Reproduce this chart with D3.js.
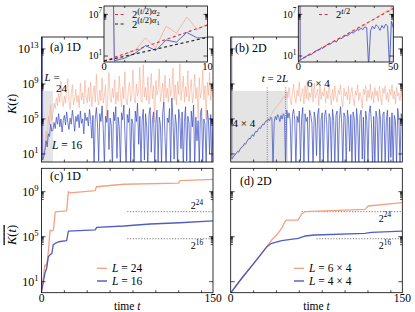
<!DOCTYPE html>
<html>
<head>
<meta charset="utf-8">
<script src="https://cdn.jsdelivr.net/npm/d3@7"></script>
<style>
  body { margin: 0; background: #fff; }
  svg { display: block; font-family: "Liberation Serif", "DejaVu Serif", serif; }
</style>
</head>
<body>
<svg width="415" height="312"></svg>
<script>
// ---- data (log10 of K, one value per integer time step t = 0..150) ----
const times = d3.range(0, 151);

const logK1D_L24 = [100,
  0.3, 1.2, 1.8, 3.6, 2.2, 5.3, 4.3, 6.6, 4.8, 5.6,
  6.8, 6.2, 7.4, 6.5, 7.9, 6.9, 9.3, 7.1, 6.4, 7.6,
  6.8, 8.2, 9.6, 7.0, 6.1, 7.8, 8.9, 6.6, 7.3, 8.4,
  6.9, 7.7, 6.3, 9.1, 7.2, 8.0, 6.7, 9.4, 7.5, 6.8,
  8.6, 7.0, 9.2, 6.4, 7.9, 8.8, 6.9, 10.1, 7.3, 6.6,
  8.3, 7.1, 9.7, 6.8, 7.6, 8.9, 4.8, 7.8, 10.3, 7.2,
  6.9, 8.5, 7.4, 9.5, 6.7, 8.1, 7.0, 9.9, 7.7, 6.4,
  8.7, 7.3, 10.4, 7.1, 6.6, 8.4, 9.2, 7.0, 7.8, 10.6,
  7.4, 6.8, 9.0, 7.6, 8.2, 10.9, 7.2, 6.9, 11.2, 7.5,
  8.6, 7.1, 9.8, 6.7, 8.0, 10.2, 7.3, 8.8, 4.6, 9.4,
  7.7, 8.3, 10.7, 7.0, 7.9, 9.1, 6.8, 10.0, 7.4, 8.5,
  6.9, 9.6, 7.6, 8.1, 10.8, 7.2, 8.9, 6.6, 9.3, 7.8,
  11.3, 7.1, 8.4, 9.9, 6.9, 8.7, 7.5, 10.5, 7.0, 8.2,
  9.5, 6.8, 7.9, 10.1, 7.3, 8.6, 5.0, 9.7, 7.4, 8.0,
  10.6, 7.2, 8.8, 4.9, 9.2, 7.7, 10.3, 7.1, 8.3, 7.6];

const logK1D_L16 = [100,
  0.3, 0.7, 1.4, 2.5, 1.8, 3.3, 3.0, 4.4, 3.6, 3.7,
  4.6, 3.9, 5.2, 4.4, 5.6, 4.1, 5.0, 3.5, 4.8, 5.4,
  4.3, 5.8, 4.6, 3.8, 5.1, 4.4, 6.0, 4.9, 3.6, 5.3,
  4.7, 5.5, 4.0, 5.9, 4.5, 5.0, 3.3, 5.7, 4.8, 5.2,
  4.2, 6.1, 4.9, 2.8, 5.4, -0.5, 5.0, 6.3, 4.4, 0.2,
  5.6, 4.7, 6.5, 3.9, -0.3, 5.3, 4.6, 6.0, 1.5, 5.1,
  4.3, -0.6, 5.8, 4.8, 6.4, 0.5, 5.2, 4.1, -0.4, 5.7,
  4.9, 6.6, 3.2, -0.5, 5.5, 4.6, 6.2, 0.0, 5.0, 4.4,
  -0.7, 5.9, 4.7, 6.8, 2.1, 5.3, -0.4, 4.8, 6.1, 0.3,
  5.6, 4.2, -0.6, 5.4, 6.3, 1.2, 4.9, 5.8, -0.5, 4.5,
  6.0, 0.1, 5.2, 4.4, -0.3, 5.7, 6.9, 3.0, -0.6, 5.1,
  4.6, 6.2, -0.4, 7.4, 4.8, 0.4, 5.5, 4.3, -0.5, 6.1,
  5.0, 1.6, 5.8, -0.7, 4.7, 6.4, 0.2, 5.3, 4.5, -0.4,
  5.9, 4.1, 6.6, -0.6, 5.2, 2.5, 4.8, -0.3, 5.7, 6.2,
  0.0, 5.0, 4.4, -0.5, 6.0, 4.9, 1.0, 5.5, -0.4, 4.6];

const logK2D_6x4 = [100,
  0.4, 0.6, 0.8, 1.0, 1.1, 1.3, 1.3, 1.5, 1.7, 1.9,
  1.9, 2.1, 2.2, 2.4, 2.5, 2.7, 2.8, 3.0, 3.1, 3.2,
  3.4, 3.5, 3.6, 3.8, 3.9, 4.1, 4.2, 4.4, 4.5, 4.6,
  4.8, 4.9, 5.1, 5.3, 5.4, 5.6, 5.9, 6.0, 6.2, 6.4,
  6.5, 6.7, 6.9, 7.0, 7.3, 7.4, 7.6, 7.3, 8.1, 7.4,
  8.6, 7.2, 6.6, 8.0, 9.0, 7.5, 6.8, 8.3, 7.6, 9.2,
  7.0, 7.9, 8.5, 6.7, 8.8, 7.3, 9.3, 7.1, 8.0, 7.5,
  8.7, 6.9, 9.1, 7.4, 7.9, 8.4, 6.5, 8.9, 7.2, 8.1,
  7.6, 8.6, 6.8, 8.2, 7.3, 9.0, 7.7, 6.6, 8.4, 7.1,
  8.8, 7.5, 6.9, 8.3, 7.8, 8.9, 7.0, 6.4, 8.5, 7.6,
  8.1, 7.2, 8.7, 6.7, 7.9, 8.6, 7.3, 6.5, 8.2, 7.7,
  8.9, 7.1, 8.0, 7.5, 6.2, 8.4, 7.8, 8.8, 7.0, 8.3,
  7.4, 9.0, 7.2, 8.1, 6.8, 8.6, 7.6, 8.2, 7.0, 8.7,
  7.5, 6.6, 8.5, 7.9, 8.8, 7.2, 8.0, 6.9, 8.4, 7.7,
  8.9, 7.3, 8.2, 6.7, 8.6, 7.6, 8.0, 7.1, 8.3, 7.4];

const logK2D_4x4 = [100,
  0.4, 0.6, 0.8, 0.9, 1.1, 1.3, 1.2, 1.5, 1.7, 1.8,
  1.9, 2.2, 2.1, 2.4, 2.6, 2.8, 2.7, 3.0, 3.2, 3.0,
  3.4, 3.6, 3.5, 3.8, 4.0, 3.9, 4.2, 4.4, 4.3, 4.6,
  4.8, 4.7, 5.0, 4.8, 5.2, 5.1, -0.5, 4.6, 5.3, 4.9,
  5.5, 5.2, 4.7, 5.4, 5.0, 5.6, 5.3, -0.6, 6.0, 5.1,
  5.7, 4.8, -0.4, 5.5, 6.1, 4.9, -0.6, 5.3, 4.6, 5.9,
  0.2, 5.1, 6.3, -0.5, 5.6, 4.7, 5.2, -0.3, 6.0, 5.4,
  4.5, -0.6, 5.8, 5.0, 0.8, 5.5, 6.2, -0.4, 4.9, 5.7,
  -0.5, 5.3, 6.0, 4.4, -0.7, 5.6, 5.1, 0.1, 6.1, 4.8,
  -0.4, 5.4, 5.9, -0.6, 5.0, 6.4, 4.6, -0.3, 5.7, 5.2,
  -0.5, 6.0, 4.9, 1.3, 5.5, -0.6, 5.8, 5.1, -0.4, 6.2,
  4.7, -0.5, 5.4, 6.0, 0.4, 5.2, -0.6, 5.9, 4.8, -0.3,
  5.6, 6.5, 4.6, -0.5, 5.3, -0.4, 5.9, 5.0, -0.6, 6.1,
  4.9, -0.3, 5.5, 5.8, -0.5, 4.7, 6.0, -0.4, 5.2, 0.6,
  5.7, -0.6, 5.4, 4.8, -0.5, 6.2, 5.0, -0.3, 5.6, 4.9];

// time-averaged K: [t, log10 K]
const avg1D_L24 = [[0, 0.1], [3, 2.5], [4.5, 2.4], [6, 3.7], [7.5, 5.6], [9, 5.5], [10.5, 5.6],
  [12, 7.2], [22, 7.3], [23.5, 9.0], [25, 8.9], [47, 9.1], [48, 9.44], [72, 9.66],
  [120, 9.76], [121, 9.98], [150, 10.1]];
const avg1D_L16 = [[0, 0.1], [3, 1.75], [4.5, 2.2], [6, 3.2], [7.5, 3.4], [9, 3.5], [10.3, 4.3],
  [12, 4.4], [15, 4.55], [22, 4.65], [23.5, 5.5], [47, 5.6], [48.3, 5.83], [72, 5.95],
  [95, 6.13], [121, 6.24], [150, 6.4]];
const avg2D_6x4 = [[0, 0], [10, 1.35], [20, 2.6], [25, 3.25], [31.5, 4.1], [35.8, 4.7], [40.2, 5.15],
  [44.5, 5.74], [47.4, 6.33], [48.9, 6.48], [59, 6.48], [62, 7.02], [64.8, 7.22],
  [117.3, 7.43], [120.2, 7.73], [150, 8.02]];
const avg2D_4x4 = [[0, 0], [10, 1.35], [20, 2.6], [25, 3.25], [31.5, 4.1], [35.8, 4.41], [44.5, 4.65],
  [59, 4.85], [64.8, 5.06], [73.6, 5.15], [117.3, 5.3], [123, 5.39], [150, 5.5]];

// saturation levels 2^N and where their dotted guides start
const satExp = [24, 16];
const satStart1D = [75, 75];
const satStart2D = [62, 75];

// exponential guides in the insets: [t, log10 K] end points
const guideA2 = [[0, 0.28], [10, 5.46]];
const guideA1 = [[0, 0.28], [10, 3.69]];
const guideB = [[0, 0.28], [50, 7.85]];

// t = 2L markers (2D) and inset windows
const tMarks2D = [32, 48];
const insetTA = [0, 10], insetTB = [0, 50];
const insetK = [1.38, 1.6e8];

// ---- drawing ----
const orange = "#f4a183", blue = "#3b4cc0", red = "#d6334a";
const svg = d3.select("svg");

const colL = [41.5, 213], colR = [230.7, 402.3];
const rowTop = [162, 37], rowBot = [292.7, 168.3];

const xa = d3.scaleLinear().domain([0, 150]).range(colL);
const xb = d3.scaleLinear().domain([0, 150]).range(colR);
const yK = d3.scaleLog().domain([1.2, 2.3e14]).range(rowTop);
const yKbar = d3.scaleLog().domain([1.05, 1.2e11]).range(rowBot);

const xInA = d3.scaleLinear().domain(insetTA).range([104, 207.5]);
const xInB = d3.scaleLinear().domain(insetTB).range([298.3, 393.3]);
const yIn = d3.scaleLog().domain(insetK).range([62, 6]);

const series = arr => arr.map((v, i) => [times[i], Math.pow(10, v)]);
const pairs = arr => arr.map(d => [d[0], Math.pow(10, d[1])]);

let clipN = 0;
function clipFor(x, y) {
  const id = "clip" + (clipN++);
  svg.append("clipPath").attr("id", id).append("rect")
    .attr("x", x.range()[0]).attr("y", y.range()[1])
    .attr("width", x.range()[1] - x.range()[0])
    .attr("height", y.range()[0] - y.range()[1]);
  return "url(#" + id + ")";
}

function drawLine(g, x, y, data, color, width, opacity, dash) {
  g.append("path")
    .datum(data)
    .attr("fill", "none")
    .attr("stroke", color)
    .attr("stroke-width", width)
    .attr("stroke-opacity", opacity)
    .attr("stroke-dasharray", dash || null)
    .attr("stroke-linejoin", "round")
    .attr("d", d3.line().x(d => x(d[0])).y(d => y(d[1])));
}

function powLabel(g, base, exp, x, y, anchor, fs) {
  const t = g.append("text").attr("x", x).attr("y", y)
    .attr("text-anchor", anchor).attr("font-size", fs);
  t.append("tspan").text(base);
  t.append("tspan").attr("dy", -fs * 0.42).attr("font-size", fs * 0.72).text(exp);
  return t;
}

function frame(g, x, y, xt, majors, tickLen) {
  const [x0, x1] = x.range(), [y0, y1] = y.range();
  const ax = g.append("g").attr("stroke", "#000").attr("stroke-width", 0.7);
  xt.forEach(t => {
    ax.append("line").attr("x1", x(t)).attr("x2", x(t)).attr("y1", y0).attr("y2", y0 - tickLen);
    ax.append("line").attr("x1", x(t)).attr("x2", x(t)).attr("y1", y1).attr("y2", y1 + tickLen);
  });
  majors.forEach((m, i) => {
    [[x0, 1], [x1, -1]].forEach(([xe, s]) => {
      ax.append("line").attr("x1", xe).attr("x2", xe + s * 4).attr("y1", y(m)).attr("y2", y(m));
      if (i > 0) d3.range(2, 10).forEach(k => {
        const v = k * m / 10;
        ax.append("line").attr("x1", xe).attr("x2", xe + s * 2.2).attr("y1", y(v)).attr("y2", y(v));
      });
    });
  });
  g.append("rect").attr("x", x0).attr("y", y1).attr("width", x1 - x0).attr("height", y0 - y1)
    .attr("fill", "none").attr("stroke", "#000").attr("stroke-width", 0.8);
}

function yLabels(g, y, majors, xr, fs) {
  majors.forEach(m => powLabel(g, "10", String(Math.round(Math.log10(m))), xr, y(m) + fs * 0.33, "end", fs));
}

const xTicks = d3.range(20, 150, 20);

// ---- panel (a) ----
const ga = svg.append("g");
const gaClip = ga.append("g").attr("clip-path", clipFor(xa, yK));
gaClip.append("rect").attr("x", xa(insetTA[0])).attr("width", xa(insetTA[1]) - xa(insetTA[0]))
  .attr("y", yK(insetK[1])).attr("height", yK.range()[0] - yK(insetK[1])).attr("fill", "#e4e4e4");
drawLine(gaClip, xa, yK, series(logK1D_L24), orange, 0.9, 0.6);
drawLine(gaClip, xa, yK, series(logK1D_L16), blue, 0.9, 0.8);
frame(ga, xa, yK, xTicks, [1e1, 1e5, 1e9, 1e13], 2.5);
yLabels(ga, yK, [1e1, 1e5, 1e9, 1e13], 38.5, 12);
ga.append("text").attr("x", 50).attr("y", 51).attr("font-size", 12).text("(a) 1D");
let t = ga.append("text").attr("x", 44.5).attr("y", 81).attr("font-size", 11);
t.append("tspan").attr("font-style", "italic").text("L");
t.append("tspan").text(" =");
ga.append("text").attr("x", 56).attr("y", 92).attr("font-size", 11).text("24");
t = ga.append("text").attr("x", 52).attr("y", 149).attr("font-size", 11.5);
t.append("tspan").attr("font-style", "italic").text("L");
t.append("tspan").text(" = 16");

// ---- panel (b) ----
const gb = svg.append("g");
const gbClip = gb.append("g").attr("clip-path", clipFor(xb, yK));
gbClip.append("rect").attr("x", xb(insetTB[0])).attr("width", xb(insetTB[1]) - xb(insetTB[0]))
  .attr("y", yK(insetK[1])).attr("height", yK.range()[0] - yK(insetK[1])).attr("fill", "#e4e4e4");
drawLine(gbClip, xb, yK, series(logK2D_6x4), orange, 0.9, 0.6);
drawLine(gbClip, xb, yK, series(logK2D_4x4), blue, 0.9, 0.8);
tMarks2D.forEach(tm => {
  gb.append("line").attr("x1", xb(tm)).attr("x2", xb(tm))
    .attr("y1", yK(4e8)).attr("y2", yK.range()[0])
    .attr("stroke", "#666").attr("stroke-width", 0.8).attr("stroke-dasharray", "1,1.3");
});
frame(gb, xb, yK, xTicks, [1e1, 1e5, 1e9, 1e13], 2.5);
gb.append("text").attr("x", 235).attr("y", 52).attr("font-size", 12).text("(b) 2D");
t = gb.append("text").attr("x", 275).attr("y", 82).attr("font-size", 11).attr("text-anchor", "middle");
t.append("tspan").attr("font-style", "italic").text("t");
t.append("tspan").text(" = 2");
t.append("tspan").attr("font-style", "italic").text("L");
gb.append("text").attr("x", 307).attr("y", 87).attr("font-size", 11).text("6 × 4");
gb.append("text").attr("x", 232.5).attr("y", 127).attr("font-size", 11).text("4 × 4");

// ---- panel (c) ----
const gc = svg.append("g");
const gcClip = gc.append("g").attr("clip-path", clipFor(xa, yKbar));
satExp.forEach((e, i) => {
  gcClip.append("line").attr("x1", xa(satStart1D[i])).attr("x2", xa(150))
    .attr("y1", yKbar(Math.pow(2, e))).attr("y2", yKbar(Math.pow(2, e)))
    .attr("stroke", "#555").attr("stroke-width", 0.8).attr("stroke-dasharray", "1.2,1.6");
});
drawLine(gcClip, xa, yKbar, pairs(avg1D_L24), orange, 1.3, 1);
drawLine(gcClip, xa, yKbar, pairs(avg1D_L16), blue, 1.3, 0.9);
frame(gc, xa, yKbar, xTicks, [1e1, 1e5, 1e9], 2.5);
yLabels(gc, yKbar, [1e1, 1e5, 1e9], 38.5, 12);
powLabel(gc, "2", "24", 203, yKbar(Math.pow(2, 24)) - 2.5, "end", 10);
powLabel(gc, "2", "16", 203, yKbar(Math.pow(2, 16)) + 10, "end", 10);
gc.append("text").attr("x", 50).attr("y", 180).attr("font-size", 12).text("(c) 1D");

// ---- panel (d) ----
const gd = svg.append("g");
const gdClip = gd.append("g").attr("clip-path", clipFor(xb, yKbar));
satExp.forEach((e, i) => {
  gdClip.append("line").attr("x1", xb(satStart2D[i])).attr("x2", xb(150))
    .attr("y1", yKbar(Math.pow(2, e))).attr("y2", yKbar(Math.pow(2, e)))
    .attr("stroke", "#555").attr("stroke-width", 0.8).attr("stroke-dasharray", "1.2,1.6");
});
drawLine(gdClip, xb, yKbar, pairs(avg2D_6x4), orange, 1.3, 1);
drawLine(gdClip, xb, yKbar, pairs(avg2D_4x4), blue, 1.3, 0.9);
frame(gd, xb, yKbar, xTicks, [1e1, 1e5, 1e9], 2.5);
powLabel(gd, "2", "24", 391, yKbar(Math.pow(2, 24)) + 10, "end", 10);
powLabel(gd, "2", "16", 391, yKbar(Math.pow(2, 16)) + 10, "end", 10);
gd.append("text").attr("x", 240).attr("y", 185).attr("font-size", 12).text("(d) 2D");

// legends for (c) and (d)
function legend(g, x, y, color, parts) {
  g.append("line").attr("x1", x).attr("x2", x + 10).attr("y1", y).attr("y2", y)
    .attr("stroke", color).attr("stroke-width", 1.3);
  const tx = g.append("text").attr("x", x + 15).attr("y", y + 4).attr("font-size", 11.5);
  tx.append("tspan").attr("font-style", "italic").text("L");
  tx.append("tspan").text(parts);
}
legend(gc, 97, 268.3, orange, " = 24");
legend(gc, 97, 281, blue, " = 16");
legend(gd, 294, 268.3, orange, " = 6 × 4");
legend(gd, 294, 281, blue, " = 4 × 4");

// x axis labels
[[xa, gc], [xb, gd]].forEach(([x, g]) => {
  g.append("text").attr("x", x(0)).attr("y", 301.5).attr("font-size", 11.5).attr("text-anchor", "middle").text("0");
  g.append("text").attr("x", x(150)).attr("y", 301.5).attr("font-size", 11.5).attr("text-anchor", "middle").text("150");
  const tl = g.append("text").attr("x", (x.range()[0] + x.range()[1]) / 2).attr("y", 309.5)
    .attr("font-size", 11.5).attr("text-anchor", "middle");
  tl.append("tspan").text("time ");
  tl.append("tspan").attr("font-style", "italic").text("t");
});

// y axis labels
t = svg.append("text").attr("transform", "translate(15.5,104) rotate(-90)")
  .attr("text-anchor", "middle").attr("font-size", 12.5);
t.append("tspan").attr("font-style", "italic").text("K");
t.append("tspan").text("(");
t.append("tspan").attr("font-style", "italic").text("t");
t.append("tspan").text(")");
t = svg.append("text").attr("transform", "translate(15.5,235) rotate(-90)")
  .attr("text-anchor", "middle").attr("font-size", 12.5).attr("text-decoration", "overline");
t.append("tspan").attr("font-style", "italic").text("K");
t.append("tspan").text("(");
t.append("tspan").attr("font-style", "italic").text("t");
t.append("tspan").text(")");

// ---- insets ----
function inset(x, y, xt, lines, guides) {
  const g = svg.append("g");
  const [x0, x1] = x.range(), [y0, y1] = y.range();
  g.append("rect").attr("x", x0).attr("y", y1).attr("width", x1 - x0).attr("height", y0 - y1).attr("fill", "#ebebeb");
  const c = g.append("g").attr("clip-path", clipFor(x, y));
  lines.forEach(l => drawLine(c, x, y, l.data, l.color, 0.9, l.opacity));
  guides.forEach(gd => drawLine(c, x, y, pairs(gd.pts), gd.color, 1.1, 1, "3,2.6"));
  frame(g, x, y, xt, [1e1, 1e7], 2);
  yLabels(g, y, [1e1, 1e7], x0 - 2, 10);
  g.append("text").attr("x", x0).attr("y", 70).attr("font-size", 10.5).attr("text-anchor", "middle").text(x.domain()[0]);
  g.append("text").attr("x", x1).attr("y", 70).attr("font-size", 10.5).attr("text-anchor", "middle").text(x.domain()[1]);
  return g;
}

function guideLabel(g, x, y, color, sub) {
  g.append("line").attr("x1", x).attr("x2", x + 10).attr("y1", y).attr("y2", y)
    .attr("stroke", color).attr("stroke-width", 1.1).attr("stroke-dasharray", "3,2.6");
  const tx = g.append("text").attr("x", x + 17).attr("y", y + 3.5).attr("font-size", 10.5);
  tx.append("tspan").text("2");
  if (sub) {
    tx.append("tspan").attr("dy", -4.5).attr("font-size", 8.5).text("(");
    tx.append("tspan").attr("font-size", 8.5).attr("font-style", "italic").text("t");
    tx.append("tspan").attr("font-size", 8.5).text("/2)");
    tx.append("tspan").attr("font-size", 8.5).attr("font-style", "italic").text("α");
    tx.append("tspan").attr("dy", 2).attr("font-size", 6.5).text(sub);
  } else {
    tx.append("tspan").attr("dy", -4.5).attr("font-size", 8.5).attr("font-style", "italic").text("t");
    tx.append("tspan").attr("font-size", 8.5).text("/2");
  }
}

const ia = inset(xInA, yIn, d3.range(2, 10, 2), [
  { data: series(logK1D_L24), color: orange, opacity: 0.75 },
  { data: series(logK1D_L16), color: blue, opacity: 0.9 }
], [{ pts: guideA2, color: red }, { pts: guideA1, color: "#222" }]);
guideLabel(ia, 115, 14.5, red, "2");
guideLabel(ia, 115, 24, "#222", "1");

const ib = inset(xInB, yIn, d3.range(10, 50, 10), [
  { data: series(logK2D_6x4), color: orange, opacity: 0.75 },
  { data: series(logK2D_4x4), color: blue, opacity: 0.9 }
], [{ pts: guideB, color: red }]);
guideLabel(ib, 319, 14.5, red, null);
</script>
</body>
</html>
